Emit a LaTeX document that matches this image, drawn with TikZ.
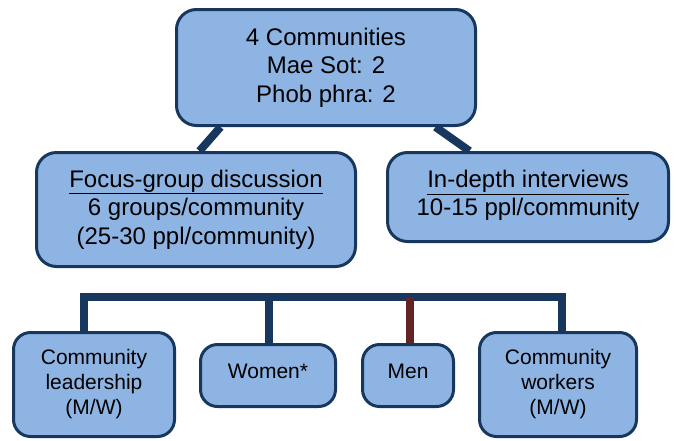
\documentclass[tikz,border=0pt]{standalone}
\usepackage{fontspec}
\setmainfont{Liberation Sans}
\usetikzlibrary{positioning}
\definecolor{boxfill}{HTML}{8EB4E3}
\definecolor{boxline}{HTML}{17375E}
\definecolor{menline}{HTML}{632523}

\begin{document}
\begin{tikzpicture}[
        x=1pt, y=-1pt,
        bigbox/.style={
            rectangle,
            draw=boxline,
            line width=3pt,
            fill=boxfill,
            rounded corners=20pt,
            inner sep=0pt,
            align=center,
            font=\fontsize{24}{28.5}\selectfont
        },
        smallbox/.style={
            bigbox,
            rounded corners=17pt,
            font=\fontsize{21}{25}\selectfont
        },
        link/.style={
            line width=8pt,
            draw=boxline
        }
    ]

    \useasboundingbox (0,0) rectangle (676,440);

    % Box for the communities
    \node[bigbox, minimum width=299pt, minimum height=116pt] (comm) at (326,67.5) {
        4 Communities\\Mae Sot: 2\\Phob phra: 2
    };

    % Boxes for the two methods
    \node[bigbox, minimum width=319pt, minimum height=114pt] (fgd) at (196,209.5) {
        \underline{Focus-group discussion}\\6 groups/community\\(25-30 ppl/community)
    };
    \node[bigbox, minimum width=281pt, minimum height=89pt, text depth=8pt,
          below right=0pt and 29pt of fgd.north east, anchor=north west] (idi) {
        \underline{In-depth interviews}\\10-15 ppl/community
    };

    % Boxes for the groups
    \node[smallbox, minimum width=161pt, minimum height=104pt] (lead) at (94,384.5) {
        Community\\leadership\\(M/W)
    };
    \node[smallbox, minimum width=135pt, minimum height=62pt, text depth=9pt] (women) at (268,375.5) {Women*};
    \node[smallbox, minimum width=91pt, minimum height=62pt, text depth=9pt] (men) at (408,375.5) {Men};
    \node[smallbox, minimum width=157pt, minimum height=104pt] (work) at (558,384.5) {
        Community\\workers\\(M/W)
    };

    % Lines from the communities to the methods
    \draw[link] ([xshift=45.5pt]comm.south west) -- ([xshift=164.5pt]fgd.north west);
    \draw[link] ([xshift=260.5pt]comm.south west) -- ([xshift=83.5pt]idi.north west);

    % Bracket over the groups
    \coordinate (bar) at (0,297);
    \draw[link] ([xshift=-10pt]lead.north) |- ([xshift=4pt]work.north |- bar)
        -- ([xshift=4pt]work.north);
    \draw[link] ([xshift=1pt]women.north) -- ([xshift=1pt]women.north |- bar);
    \draw[link, draw=menline] ([xshift=1.5pt]men.north) -- ([xshift=1.5pt]men.north |- bar);

\end{tikzpicture}
\end{document}
